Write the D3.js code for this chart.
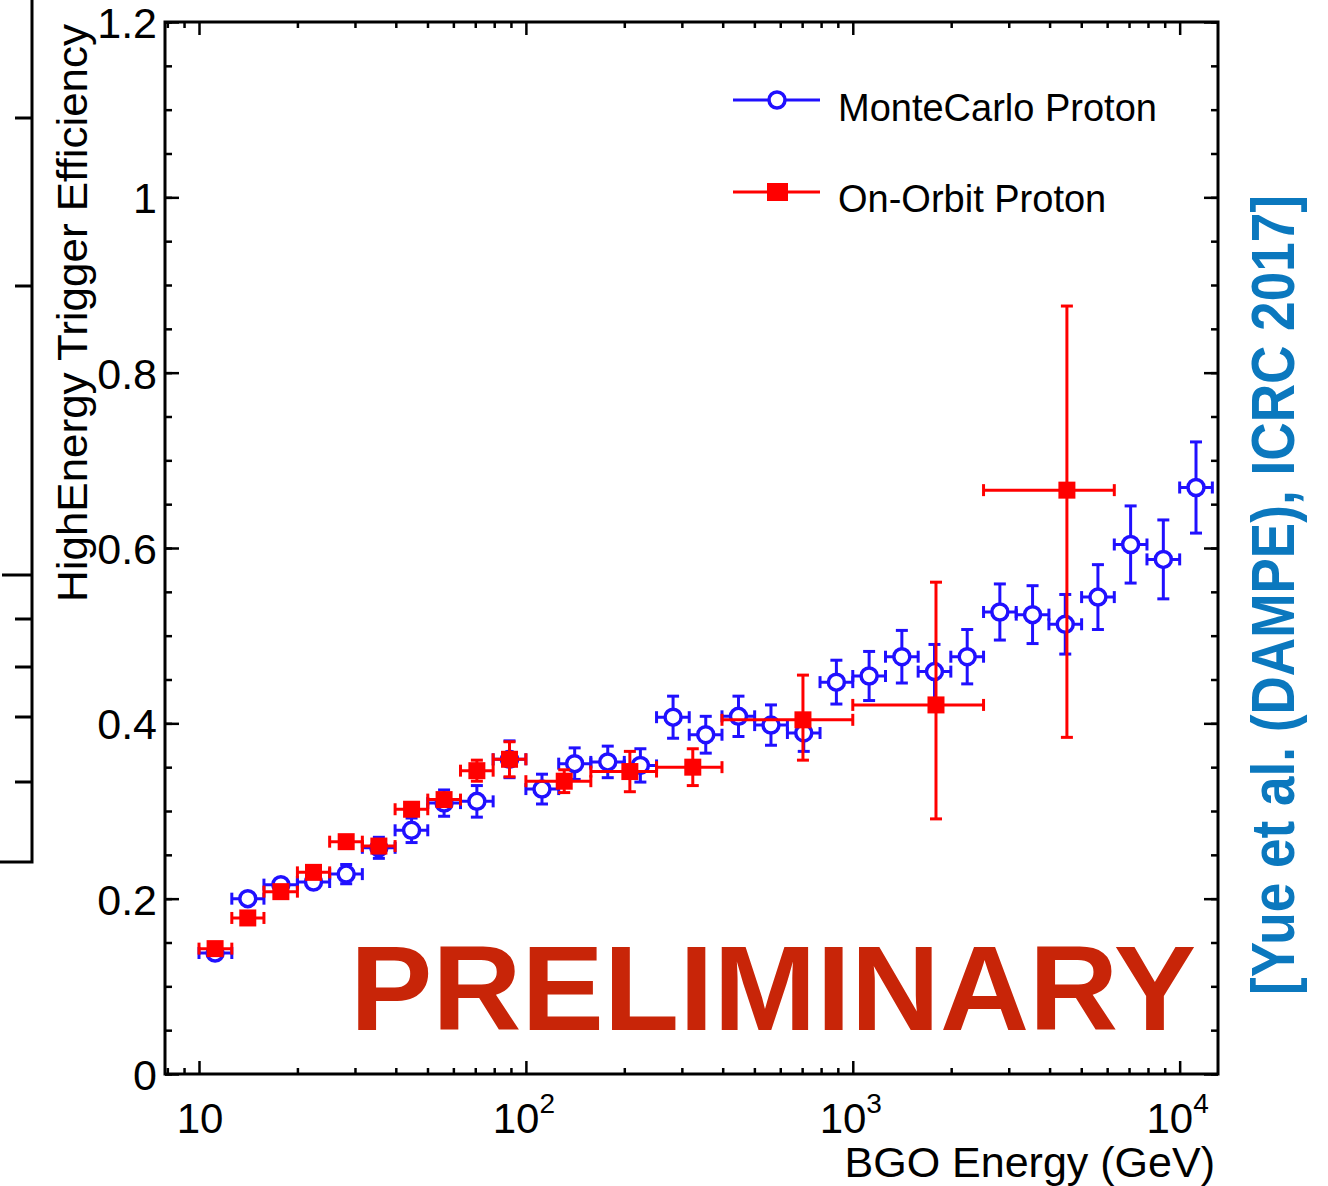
<!DOCTYPE html>
<meta charset="UTF-8">
<head>
<title>HighEnergy Trigger Efficiency</title>
<style>
body { margin: 0; background: #fff; }
svg text { font-family: "Liberation Sans", Arial, Helvetica, sans-serif; }
.tick text { font-size: 43px; fill: #000; }
</style>
</head>
<body>
<script src="https://cdnjs.cloudflare.com/ajax/libs/d3/7.8.5/d3.min.js"></script>
<script>

// MonteCarlo proton: bin centres (GeV), bin edges, efficiency, error
var mcEnergy = [11.2, 14.1, 17.8, 22.4, 28.2, 35.5, 44.7, 56.2, 70.8, 89.1,
                112, 141, 178, 224, 282, 355, 447, 562, 708, 891,
                1122, 1413, 1778, 2239, 2818, 3548, 4467, 5623, 7079, 8913, 11220];
var mcEdges = [10, 12.6, 15.8, 20, 25.1, 31.6, 39.8, 50.1, 63.1, 79.4, 100,
               126, 158, 200, 251, 316, 398, 501, 631, 794, 1000,
               1259, 1585, 1995, 2512, 3162, 3981, 5012, 6310, 7943, 10000, 12589];
var mcEff = [0.138, 0.200, 0.216, 0.219, 0.228, 0.258, 0.278, 0.309, 0.311, 0.359,
             0.325, 0.354, 0.356, 0.352, 0.407, 0.387, 0.408, 0.398, 0.389, 0.447,
             0.454, 0.476, 0.459, 0.476, 0.527, 0.524, 0.513, 0.544, 0.604, 0.587, 0.669];
var mcErr = [0.005, 0.006, 0.007, 0.008, 0.011, 0.012, 0.014, 0.015, 0.018, 0.021,
             0.017, 0.018, 0.018, 0.019, 0.024, 0.021, 0.023, 0.023, 0.021, 0.025,
             0.028, 0.030, 0.031, 0.031, 0.032, 0.033, 0.034, 0.037, 0.044, 0.045, 0.052];

// On-orbit proton: centre, low/high bin edge, efficiency, low/high error
var orbitEnergy = [11.2, 14.1, 17.8, 22.4, 28.2, 35.5, 44.7, 56.2, 70.8, 89.1,
                   131, 208, 324, 704, 1797, 4519];
var orbitLo = [10, 12.6, 15.8, 20, 25.1, 31.6, 39.8, 50.1, 63.1, 79.4,
               100, 158, 251, 398, 1000, 2512];
var orbitHi = [12.6, 15.8, 20, 25.1, 31.6, 39.8, 50.1, 63.1, 79.4, 100,
               158, 251, 398, 1000, 2512, 6310];
var orbitEff = [0.143, 0.178, 0.208, 0.230, 0.265, 0.260, 0.302, 0.313, 0.346, 0.359,
                0.334, 0.345, 0.350, 0.404, 0.421, 0.666];
var orbitErrLo = [0.004, 0.005, 0.005, 0.006, 0.006, 0.007, 0.008, 0.009, 0.012, 0.020,
                  0.013, 0.023, 0.021, 0.046, 0.130, 0.282];
var orbitErrHi = [0.004, 0.005, 0.005, 0.006, 0.006, 0.007, 0.008, 0.009, 0.012, 0.020,
                  0.013, 0.023, 0.021, 0.051, 0.140, 0.210];

var yMajor = [0, 0.2, 0.4, 0.6, 0.8, 1, 1.2];
var yLabels = ["0", "0.2", "0.4", "0.6", "0.8", "1", "1.2"];
var xMajor = [10, 100, 1000, 10000];
var xExp = ["", "2", "3", "4"];

var blue = "#2010ff", red = "#ff0000";

var W = 1328, H = 1186;
var frame = {left: 165, right: 1218, top: 22, bottom: 1074};

var svg = d3.select("body").append("svg")
    .attr("width", W)
    .attr("height", H);

var x = d3.scaleLog().domain([7.87, 13100]).range([frame.left, frame.right]);
var y = d3.scaleLinear().domain([0, 1.2]).range([frame.bottom, frame.top]);

// leftover bracket of the neighbouring figure
var bracket = svg.append("g").attr("stroke", "#000").attr("stroke-width", 3).attr("fill", "none");
bracket.append("path").attr("d", "M32,0 V862 H0");
[118, 286, 619, 667, 717, 782].forEach(function(t) {
  bracket.append("line").attr("x1", 15).attr("x2", 32).attr("y1", t).attr("y2", t);
});
bracket.append("line").attr("x1", 2).attr("x2", 32).attr("y1", 575).attr("y2", 575);

// axes
var minorX = x.ticks().filter(function(v) { return xMajor.indexOf(v) < 0; });
var minorY = d3.range(0, 25).map(function(i) { return i * 0.05; });

function axisStyle(g) {
  g.select(".domain").remove();
  g.selectAll(".tick line").attr("stroke", "#000").attr("stroke-width", 2.5);
}

svg.append("g").attr("transform", "translate(" + frame.left + ",0)")
    .call(d3.axisLeft(y).tickValues(yMajor).tickSize(-14).tickPadding(8)
      .tickFormat(function(d, i) { return yLabels[i]; }))
    .call(axisStyle)
    .call(function(g) { g.selectAll(".tick text").attr("dy", "0.36em"); });
svg.append("g").attr("transform", "translate(" + frame.left + ",0)")
    .call(d3.axisLeft(y).tickValues(minorY).tickSize(-7).tickFormat(""))
    .call(axisStyle);
svg.append("g").attr("transform", "translate(" + frame.right + ",0)")
    .call(d3.axisRight(y).tickValues(yMajor).tickSize(-14).tickFormat(""))
    .call(axisStyle);
svg.append("g").attr("transform", "translate(" + frame.right + ",0)")
    .call(d3.axisRight(y).tickValues(minorY).tickSize(-7).tickFormat(""))
    .call(axisStyle);

svg.append("g").attr("transform", "translate(0," + frame.bottom + ")")
    .call(d3.axisBottom(x).tickValues(xMajor).tickSize(-13).tickFormat(""))
    .call(axisStyle);
svg.append("g").attr("transform", "translate(0," + frame.bottom + ")")
    .call(d3.axisBottom(x).tickValues(minorX).tickSize(-6).tickFormat(""))
    .call(axisStyle);
svg.append("g").attr("transform", "translate(0," + frame.top + ")")
    .call(d3.axisTop(x).tickValues(xMajor).tickSize(-13).tickFormat(""))
    .call(axisStyle);
svg.append("g").attr("transform", "translate(0," + frame.top + ")")
    .call(d3.axisTop(x).tickValues(minorX).tickSize(-6).tickFormat(""))
    .call(axisStyle);

// x tick labels with exponents
xMajor.forEach(function(v, i) {
  var t = svg.append("text")
      .attr("x", x(v) + (xExp[i] ? -2 : 1))
      .attr("y", 1133)
      .attr("text-anchor", "middle")
      .attr("font-size", 42);
  t.append("tspan").text("10");
  if (xExp[i]) {
    t.append("tspan").attr("font-size", 28).attr("dy", -20).text(xExp[i]);
  }
});

svg.append("rect")
    .attr("x", frame.left).attr("y", frame.top)
    .attr("width", frame.right - frame.left).attr("height", frame.bottom - frame.top)
    .attr("fill", "none").attr("stroke", "#000").attr("stroke-width", 3);

// axis titles
svg.append("text")
    .attr("x", 1215).attr("y", 1177)
    .attr("text-anchor", "end")
    .attr("font-size", 43)
    .text("BGO Energy (GeV)");

svg.append("text")
    .attr("transform", "translate(87,24) rotate(-90)")
    .attr("text-anchor", "end")
    .attr("font-size", 43)
    .attr("textLength", 578)
    .attr("lengthAdjust", "spacingAndGlyphs")
    .text("HighEnergy Trigger Efficiency");

// error bars + markers
var cap = 6;

function drawSeries(pts, color, half, drawMarker) {
  var g = svg.append("g");
  pts.forEach(function(p) {
    var cx = x(p.e), cy = y(p.v);
    var xl = x(p.lo), xh = x(p.hi);
    var yt = y(p.v + p.up), yb = y(p.v - p.dn);
    var s = g.append("g").attr("stroke", color).attr("stroke-width", 3);
    s.append("line").attr("x1", xl).attr("x2", xh).attr("y1", cy).attr("y2", cy);
    s.append("line").attr("x1", xl).attr("x2", xl).attr("y1", cy - cap).attr("y2", cy + cap);
    s.append("line").attr("x1", xh).attr("x2", xh).attr("y1", cy - cap).attr("y2", cy + cap);
    if (cy - yt > half) {
      s.append("line").attr("x1", cx).attr("x2", cx).attr("y1", yt).attr("y2", yb);
      s.append("line").attr("x1", cx - cap).attr("x2", cx + cap).attr("y1", yt).attr("y2", yt);
      s.append("line").attr("x1", cx - cap).attr("x2", cx + cap).attr("y1", yb).attr("y2", yb);
    }
    drawMarker(g, cx, cy);
  });
}

function circleMarker(g, cx, cy) {
  g.append("circle").attr("cx", cx).attr("cy", cy).attr("r", 8)
      .attr("fill", "#fff").attr("stroke", blue).attr("stroke-width", 3.5);
}
function squareMarker(g, cx, cy) {
  g.append("rect").attr("x", cx - 8.5).attr("y", cy - 8.5)
      .attr("width", 17).attr("height", 17).attr("fill", red);
}

var mcPts = mcEnergy.map(function(e, i) {
  return {e: e, lo: mcEdges[i], hi: mcEdges[i + 1], v: mcEff[i], up: mcErr[i], dn: mcErr[i]};
});
var orbitPts = orbitEnergy.map(function(e, i) {
  return {e: e, lo: orbitLo[i], hi: orbitHi[i], v: orbitEff[i], up: orbitErrHi[i], dn: orbitErrLo[i]};
});

drawSeries(mcPts, blue, 9, circleMarker);
drawSeries(orbitPts, red, 9, squareMarker);

// legend
var legend = svg.append("g");
legend.append("line").attr("x1", 733).attr("x2", 820).attr("y1", 100).attr("y2", 100)
    .attr("stroke", blue).attr("stroke-width", 3);
circleMarker(legend, 777, 100);
legend.append("text").attr("x", 838).attr("y", 121).attr("font-size", 38).text("MonteCarlo Proton");

legend.append("line").attr("x1", 733).attr("x2", 820).attr("y1", 192).attr("y2", 192)
    .attr("stroke", red).attr("stroke-width", 3);
legend.append("rect").attr("x", 767).attr("y", 183).attr("width", 21).attr("height", 18).attr("fill", red);
legend.append("text").attr("x", 838).attr("y", 212).attr("font-size", 38).text("On-Orbit Proton");

// overlays
svg.append("text")
    .attr("x", 350).attr("y", 1030)
    .attr("font-size", 121)
    .attr("font-weight", "bold")
    .attr("fill", "#c82508")
    .attr("textLength", 846)
    .attr("lengthAdjust", "spacingAndGlyphs")
    .text("PRELIMINARY");

svg.append("text")
    .attr("transform", "translate(1294,595) rotate(-90)")
    .attr("text-anchor", "middle")
    .attr("font-size", 62)
    .attr("font-weight", "bold")
    .attr("fill", "#0b78be")
    .attr("textLength", 800)
    .attr("lengthAdjust", "spacingAndGlyphs")
    .text("[Yue et al. (DAMPE), ICRC 2017]");

</script>
</body>
</html>
